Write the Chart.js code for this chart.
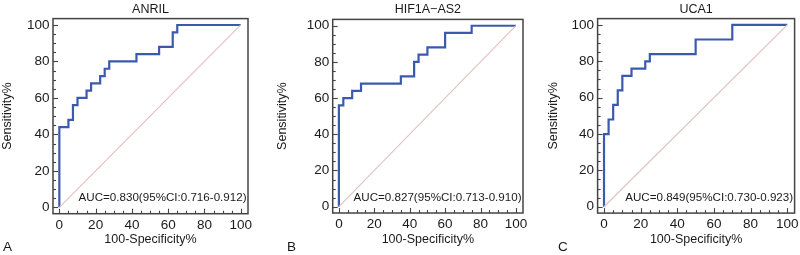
<!DOCTYPE html>
<html>
<head>
<meta charset="utf-8">
<script src="https://cdn.jsdelivr.net/npm/chart.js@4/dist/chart.umd.min.js"></script>
<style>
  html,body{margin:0;padding:0;background:#fff;}
  #wrap{position:relative;width:800px;height:255px;overflow:hidden;}
  #wrap canvas{position:absolute;top:0;}
</style>
</head>
<body>
<div id="wrap">
  <canvas id="roc-a" width="266" height="255" style="left:0px"></canvas>
  <canvas id="roc-b" width="267" height="255" style="left:266px"></canvas>
  <canvas id="roc-c" width="267" height="255" style="left:533px"></canvas>
</div>
<script>
// ROC 곡선 데이터 (100-특이도%, 민감도%) — 그림에서 읽은 값
const anrilFpr  = [0, 0, 5, 7.5, 10, 15, 17.5, 22.5, 25, 27.5, 42.5, 55, 62.5, 65, 100];
const anrilSens = [0, 44, 48, 56, 60, 64, 68, 72, 76, 80, 84, 88, 96, 100, 100];
const hifFpr    = [0, 0, 2.5, 7.5, 12.5, 35, 42.5, 45, 50, 60, 75, 100];
const hifSens   = [0, 56, 60, 64, 68, 72, 80, 84, 88, 96, 100, 100];
const ucaFpr    = [0, 0, 2.5, 5, 7.5, 10, 15, 22.5, 25, 50, 70, 100];
const ucaSens   = [0, 40, 48, 56, 64, 72, 76, 80, 84, 92, 100, 100];
const diagX = [0, 100];
const diagY = [0, 100];

const titles  = ['ANRIL', 'HIF1A\u2212AS2', 'UCA1'];
const aucText = ['AUC=0.830(95%CI:0.716-0.912)', 'AUC=0.827(95%CI:0.713-0.910)', 'AUC=0.849(95%CI:0.730-0.923)'];
const letters = ['A', 'B', 'C'];
const axisTicks  = [0, 20, 40, 60, 80, 100];
const minorTicks = [0, 5, 10, 15, 20, 25, 30, 35, 40, 45, 50, 55, 60, 65, 70, 75, 80, 85, 90, 95, 100];
const xTitle = '100-Specificity%';
const yTitle = 'Sensitivity%';

const FONT = '"Liberation Sans", Arial, sans-serif';
const INK = '#1a1a1a';
const FRAME = '#444';

// 패널 배치 (캔버스 기준 px)
const layouts = [
  {id:'roc-a', fpr:anrilFpr, sens:anrilSens, frameL:53,   frameR:248,   frameT:18.6, frameB:213.7, yPad:0.5, letterX:3,  W:266},
  {id:'roc-b', fpr:hifFpr,   sens:hifSens,   frameL:66.7, frameR:257,   frameT:19.4, frameB:213,   yPad:9,   letterX:21, W:267},
  {id:'roc-c', fpr:ucaFpr,   sens:ucaSens,   frameL:64.6, frameR:261.6, frameT:18.6, frameB:213.1, yPad:13,  letterX:25, W:267},
];

const framePlugin = {
  id:'frame',
  afterDatasetsDraw(chart, args, opts){
    const {ctx, chartArea:a, scales:{x, y}} = chart;
    ctx.save();
    ctx.strokeStyle = FRAME; ctx.lineWidth = 1.5;
    ctx.strokeRect(a.left, a.top, a.right - a.left, a.bottom - a.top);
    // 안쪽 눈금
    ctx.lineWidth = 1.1;
    minorTicks.forEach(v => {
      const len = v % 20 === 0 ? 5 : 3;
      const px = Math.round(x.getPixelForValue(v)) + 0.5;
      const py = Math.round(y.getPixelForValue(v)) + 0.5;
      ctx.beginPath(); ctx.moveTo(px, a.bottom); ctx.lineTo(px, a.bottom - len); ctx.stroke();
      ctx.beginPath(); ctx.moveTo(a.left, py); ctx.lineTo(a.left + len, py); ctx.stroke();
    });
    ctx.fillStyle = INK;
    ctx.font = '11.6px ' + FONT;
    ctx.textAlign = 'right'; ctx.textBaseline = 'middle';
    ctx.fillText(opts.auc, a.right - 1.5, a.bottom - 15.5);
    ctx.font = '13.5px ' + FONT;
    ctx.textAlign = 'left';
    ctx.fillText(opts.letter, opts.letterX, 247);
    ctx.restore();
  }
};

function makeChart(L, i){
  const el = document.getElementById(L.id);
  new Chart(el, {
    type:'line',
    data:{datasets:[
      {data:diagX.map((v, k) => ({x:v, y:diagY[k]})), borderColor:'#e2c0c0', borderWidth:1.1, pointRadius:0},
      {data:L.fpr.map((v, k) => ({x:v, y:L.sens[k]})), stepped:'before', borderColor:'#3b5aae', borderWidth:2.2, pointRadius:0},
    ]},
    options:{
      responsive:false, animation:false, devicePixelRatio:1,
      layout:{padding:{left:0, right:L.W - L.frameR, top:0, bottom:0}},
      plugins:{
        legend:{display:false}, tooltip:{enabled:false},
        title:{display:true, text:titles[i], fullSize:false, color:INK,
               font:{family:FONT, size:12.5, weight:'normal', lineHeight:1.2},
               padding:{top:2, bottom:L.frameT - 17}},
        frame:{auc:aucText[i], letter:letters[i], letterX:L.letterX},
      },
      scales:{
        x:{type:'linear', min:-3.5, max:104,
           afterBuildTicks:s => { s.ticks = axisTicks.map(v => ({value:v})); },
           afterFit:s => { s.height = 255 - L.frameB; s.paddingLeft = 0; s.paddingRight = 0; },
           grid:{display:false, drawTicks:false}, border:{display:false},
           ticks:{color:INK, padding:3, maxRotation:0, font:{family:FONT, size:13.5}},
           title:{display:true, text:xTitle, color:INK, font:{family:FONT, size:12.5, lineHeight:1.2}, padding:{top:0, bottom:7.5}}},
        y:{type:'linear', min:-3.5, max:103.5,
           afterBuildTicks:s => { s.ticks = axisTicks.map(v => ({value:v})); },
           afterFit:s => { s.width = L.frameL; s.paddingTop = 0; s.paddingBottom = 0; },
           grid:{display:false, drawTicks:false}, border:{display:false},
           ticks:{color:INK, padding:3.5, font:{family:FONT, size:13.5}},
           title:{display:true, text:yTitle, color:INK, font:{family:FONT, size:12.5, lineHeight:1.2}, padding:{top:L.yPad, bottom:0}}},
      }
    },
    plugins:[framePlugin]
  });
}

layouts.forEach(makeChart);
</script>
</body>
</html>
